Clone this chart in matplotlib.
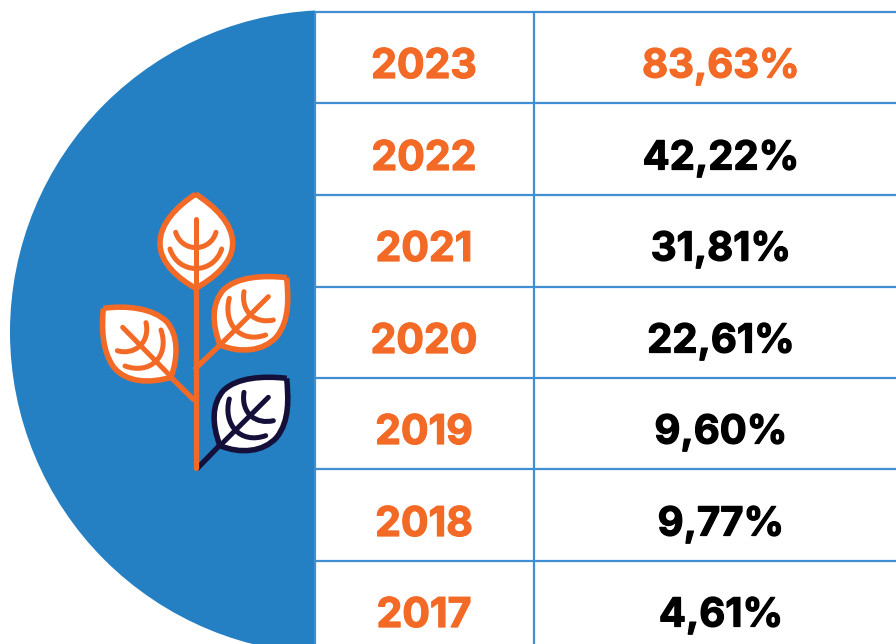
import matplotlib
matplotlib.use("Agg")
import matplotlib.pyplot as plt
import matplotlib.patheffects as pe
from matplotlib.patches import Circle, PathPatch, Rectangle
from matplotlib.path import Path

plt.rcParams["font.family"] = ["Inter", "DejaVu Sans"]

years = ["2023", "2022", "2021", "2020", "2019", "2018", "2017"]
rates = ["83,63%", "42,22%", "31,81%", "22,61%", "9,60%", "9,77%", "4,61%"]
row_lines = [12, 103, 195, 287, 378, 469, 561]
row_centers = [63, 155, 246, 338, 429, 521, 612]

BLUE = "#2580c3"
LINE = "#3f8fd2"
ORANGE = "#f26a26"
NAVY = "#15103a"


# icon outlines were traced on a 3x crop, this puts them back on the page
def page(x, y):
    return (90 + x / 3, 180 + y / 3)


def curve(start, *segments, shift=0):
    verts = [page(start[0], start[1] + shift)]
    codes = [Path.MOVETO]
    for seg in segments:
        if len(seg) == 2:
            verts.append(page(seg[0], seg[1] + shift))
            codes.append(Path.LINETO)
        else:
            for i in range(0, 6, 2):
                verts.append(page(seg[i], seg[i + 1] + shift))
                codes.append(Path.CURVE4)
    return Path(verts, codes)


def draw_line(ax, path, color, lw=3.6):
    ax.add_patch(PathPatch(path, fc="none", ec=color, lw=lw, capstyle="round", joinstyle="round", zorder=5))


def draw_leaf(ax, outline, veins, color):
    ax.add_patch(PathPatch(outline, fc="white", ec=color, lw=4.0, joinstyle="round", zorder=4))
    for v in veins:
        draw_line(ax, v, color)


def right_leaf(ax, color, shift=0):
    outline = curve((590, 293), (520, 285, 440, 290, 400, 330), (365, 370, 365, 430, 390, 495),
                    (450, 520, 520, 515, 560, 470), (600, 420, 595, 350, 590, 293), shift=shift)
    veins = [
        curve((390, 495), (535, 350), shift=shift),
        curve((462, 335), (452, 400, 500, 432, 550, 420), shift=shift),
        curve((418, 355), (398, 430, 450, 492, 527, 465), shift=shift),
    ]
    draw_leaf(ax, outline, veins, color)


def cell_text(ax, x, y, label, color, size):
    # the original face is heavier than Inter bold, so thicken it a little
    t = ax.text(x, y, label, color=color, fontsize=size, fontweight="bold",
                ha="center", va="center_baseline", zorder=3)
    t.set_path_effects([pe.withStroke(linewidth=0.9, foreground=color)])


fig = plt.figure(figsize=(8.96, 6.44), dpi=100)
ax = fig.add_axes([0, 0, 1, 1])
ax.set_xlim(0, 896)
ax.set_ylim(644, 0)
ax.axis("off")

# half circle, cut at the table edge
half = Circle((332, 332), 322, fc=BLUE, ec="none", zorder=1)
ax.add_patch(half)
half.set_clip_path(Rectangle((0, 0), 315, 660, transform=ax.transData))

# table grid
for y in row_lines:
    ax.plot([315, 896], [y, y], color=LINE, lw=1.6, zorder=2, solid_capstyle="butt")
ax.plot([315, 315], [12, 644], color=LINE, lw=1.6, zorder=2, solid_capstyle="butt")
ax.plot([534, 534], [12, 644], color=LINE, lw=1.6, zorder=2, solid_capstyle="butt")

for i in range(len(years)):
    cell_text(ax, 424, row_centers[i], years[i], ORANGE, 29.5)
    cell_text(ax, 721, row_centers[i], rates[i], ORANGE if i == 0 else "black", 28.8)

# plant icon
draw_line(ax, curve((322, 865), (390, 795)), NAVY, lw=3.8)
draw_line(ax, curve((317, 325), (317, 865)), ORANGE, lw=3.8)
draw_line(ax, curve((317, 565), (390, 495)), ORANGE, lw=3.8)
draw_line(ax, curve((243, 592), (310, 658)), ORANGE, lw=3.8)

top_outline = curve((317, 42), (260, 80, 210, 130, 210, 190), (210, 250, 265, 295, 317, 325),
                    (370, 295, 428, 250, 428, 190), (428, 130, 375, 80, 317, 42))
top_veins = [
    curve((317, 118), (317, 325)),
    curve((257, 157), (275, 218, 360, 218, 378, 157)),
    curve((240, 207), (265, 285, 370, 285, 395, 207)),
]
draw_leaf(ax, top_outline, top_veins, ORANGE)

right_leaf(ax, ORANGE)
right_leaf(ax, NAVY, shift=302)

left_outline = curve((40, 385), (110, 375, 190, 385, 230, 425), (265, 465, 265, 530, 243, 592),
                     (180, 610, 110, 610, 70, 560), (35, 510, 35, 440, 40, 385))
left_veins = [
    curve((98, 442), (243, 590)),
    curve((168, 428), (182, 490, 130, 527, 82, 512)),
    curve((213, 450), (240, 530, 180, 585, 105, 558)),
]
draw_leaf(ax, left_outline, left_veins, ORANGE)

fig.savefig("out.png", dpi=100)
